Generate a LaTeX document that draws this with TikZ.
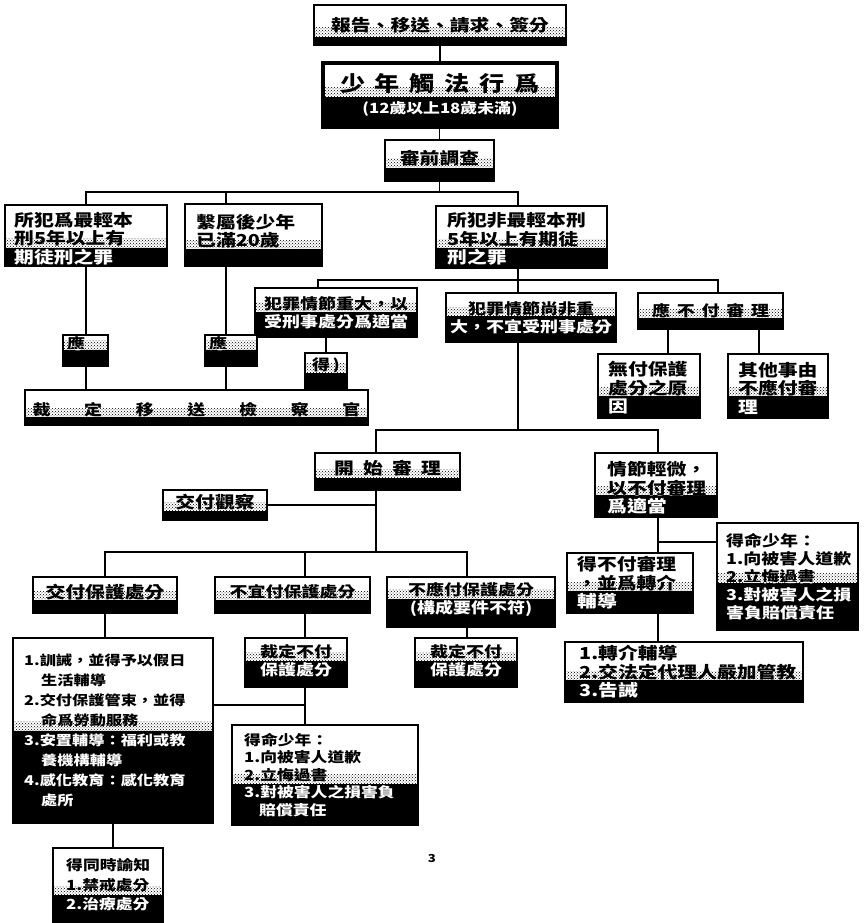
\documentclass[tikz,border=0pt]{standalone}
\usepackage{fontspec}
\setmainfont[FakeStretch=1.2]{Noto Sans CJK TC}
\usetikzlibrary{fit,calc,patterns}
\newcommand\fbig{\fontsize{16.5}{18.5}\selectfont\bfseries}
\newcommand\fsml{\fontsize{15}{18}\selectfont\bfseries}
\newcommand\ftny{\fontsize{14}{17.5}\selectfont\bfseries}
\newcommand\gbox[7]{%
  \coordinate (#1-nw) at #2;
  \coordinate (#1-se) at #3;
  \node[fit=(#1-nw)(#1-se), inner sep=0pt, outer sep=0pt] (#1) {};
  \coordinate (#1-m) at ($(#1.south west)!#4!(#1.north west)$);
  \fill[white] (#1.north west) rectangle (#1.south east);
  \fill[pattern=crosshatch dots, pattern color=black] ($(#1-m)+(0,-9)$) rectangle (#1.east |- #1-m);
  \fill[black] (#1.south west) rectangle (#1.east |- #1-m);
  \begin{scope}
    \clip (#1.north west) rectangle (#1.east |- #1-m);
    \node[txt,text=black,anchor=#5,#6] (#1-t) at (#1.#5) {#7};
  \end{scope}
  \begin{scope}
    \clip (#1.south west) rectangle (#1.east |- #1-m);
    \node[txt,text=white,anchor=#5,#6] (#1-u) at (#1.#5) {#7};
  \end{scope}
  \draw[boxline] (#1.north west) rectangle (#1.south east);
}
\begin{document}
\begin{tikzpicture}[x=1pt,y=-1pt,
  txt/.style={inner sep=0pt, align=left, font=\fbig},
  boxline/.style={draw=black, line width=1.4pt},
  conn/.style={draw=black, line width=1.2pt}]
\useasboundingbox (0,0) rectangle (863,923);
\fill[white] (0,0) rectangle (863,923);

% ---- boxes ----
\gbox{b1}{(314,5)}{(566,45)}{0.2}{center}{font=\fbig}{報告、移送、請求、簽分}
\gbox{b2}{(323,63)}{(557,127)}{0.47}{center}{align=center,font=\fontsize{21}{23}\selectfont\bfseries}{\makebox[200pt][s]{少\hfill 年\hfill 觸\hfill 法\hfill 行\hfill 爲}\\[-1pt]{\fontsize{14}{16}\selectfont\bfseries (12歲以上18歲未滿)}}
\draw[line width=3.2pt] (b2.north west) rectangle (b2.south east);
\gbox{b3}{(385,140)}{(494,181)}{0.32}{center}{font=\fbig,yshift=2pt}{審前調查}
\gbox{b4}{(5,205)}{(167,266)}{0.3}{west}{xshift=9pt,yshift=-3pt}{所犯爲最輕本\\刑5年以上有\\期徒刑之罪}
\gbox{b5}{(185,204)}{(322,266)}{0.27}{west}{xshift=11pt,yshift=4pt}{繫屬後少年\\已滿20歲}
\gbox{b6}{(436,206)}{(607,268)}{0.32}{west}{xshift=11pt,yshift=-2pt}{所犯非最輕本刑\\5年以上有期徒\\刑之罪}
\gbox{b7}{(255,288)}{(417,337)}{0.52}{center}{align=center,font=\fsml}{犯罪情節重大，以\\受刑事處分爲適當}
\gbox{b8}{(446,293)}{(616,342)}{0.53}{center}{align=center,font=\fsml}{犯罪情節尚非重\\大，不宜受刑事處分}
\gbox{b9}{(638,293)}{(783,329)}{0.3}{center}{font=\fsml}{\makebox[117pt][s]{應\hfill 不\hfill 付\hfill 審\hfill 理}}
\gbox{b10}{(598,354)}{(700,418)}{0.34}{west}{xshift=10pt,yshift=-2pt}{無付保護\\處分之原\\因}
\gbox{b11}{(728,354)}{(828,418)}{0.34}{west}{xshift=10pt,yshift=-2pt}{其他事由\\不應付審\\理}
\gbox{y1}{(63,335)}{(108,366)}{0.52}{west}{font=\fsml,xshift=4pt,yshift=7pt}{應}
\gbox{y2}{(205,335)}{(257,366)}{0.52}{west}{font=\fsml,xshift=4pt,yshift=7pt}{應}
\gbox{d1}{(305,353)}{(347,390)}{0.46}{center}{font=\fsml,yshift=6pt}{得\,)}
\gbox{b12}{(25,390)}{(368,425)}{0.22}{center}{font=\fsml,yshift=-2pt}{\makebox[328pt][s]{裁\hfill 定\hfill 移\hfill 送\hfill 檢\hfill 察\hfill 官}}
\gbox{b13}{(315,453)}{(460,490)}{0.32}{center}{font=\fbig,yshift=3pt}{\makebox[107pt][s]{開\hfill 始\hfill 審\hfill 理}}
\gbox{b14}{(163,490)}{(267,520)}{0.3}{center}{font=\fbig,yshift=3pt}{交付觀察}
\gbox{b15}{(595,453)}{(717,517)}{0.34}{west}{xshift=12pt,yshift=-3pt}{情節輕微，\\以不付審理\\爲適當}
\gbox{b16}{(717,523)}{(858,630)}{0.44}{west}{font=\fsml,xshift=9pt}{得命少年：\\1.向被害人道歉\\2.立悔過書\\3.對被害人之損\\害負賠償責任}
\gbox{b17}{(567,553)}{(693,613)}{0.36}{west}{xshift=10pt}{得不付審理\\，並爲轉介\\輔導}
\gbox{b18}{(565,642)}{(803,702)}{0.36}{west}{xshift=14pt}{1.轉介輔導\\2.交法定代理人嚴加管教\\3.告誡}
\gbox{b19}{(33,577)}{(177,613)}{0.36}{center}{font=\fbig,yshift=3pt}{交付保護處分}
\gbox{b20}{(215,577)}{(370,613)}{0.36}{center}{font=\fsml,yshift=3pt}{不宜付保護處分}
\gbox{b21}{(387,577)}{(555,627)}{0.57}{center}{align=center,font=\fsml,yshift=2pt}{不應付保護處分\\(構成要件不符)}
\gbox{b22}{(245,638)}{(347,687)}{0.53}{center}{align=center,font=\fsml,yshift=2pt}{裁定不付\\保護處分}
\gbox{b23}{(415,638)}{(517,687)}{0.53}{center}{align=center,font=\fsml,yshift=2pt}{裁定不付\\保護處分}
\gbox{b24}{(13,638)}{(213,823)}{0.5}{west}{font=\fontsize{13.5}{20}\selectfont\bfseries,xshift=11pt}{1.訓誡，並得予以假日\\\hspace*{17pt}生活輔導\\2.交付保護管束，並得\\\hspace*{17pt}命爲勞動服務\\3.安置輔導：福利或教\\\hspace*{17pt}養機構輔導\\4.感化教育：感化教育\\\hspace*{17pt}處所}
\gbox{b25}{(232,725)}{(418,825)}{0.415}{west}{font=\ftny,xshift=12pt}{得命少年：\\1.向被害人道歉\\2.立悔過書\\3.對被害人之損害負\\\hspace*{15pt}賠償責任}
\gbox{b26}{(53,848)}{(163,922)}{0.365}{west}{font=\fontsize{14}{19.5}\selectfont\bfseries,xshift=13pt}{得同時諭知\\1.禁戒處分\\2.治療處分}
\node[font=\fontsize{11}{13}\selectfont\bfseries, inner sep=0pt] (pg) at (432,858) {3};

% ---- connector junctions ----
\coordinate (j1) at (439.5,192);
\coordinate (j5) at (226,192);
\coordinate (j6) at (518,280);
\coordinate (j7) at (318,280);
\coordinate (j9) at (718,280);
\coordinate (j10) at (668,340);
\coordinate (j11) at (759,340);
\coordinate (j13) at (376,430);
\coordinate (j15) at (658,430);
\coordinate (j16) at (658,542);
\coordinate (j19) at (105,552);
\coordinate (j20) at (305,552);
\coordinate (j21) at (467,552);
\coordinate (j24) at (213,705);

% ---- connectors ----
\draw[conn] (b1.south) -- (b2.north);
\draw[conn] (b3.north |- b2.south) -- (b3.north);
\draw[conn] (b3.south) -- (j1);
\draw[conn] (b4.north) |- (j1) -| (j6 |- b6.north);
\draw[conn] (j5) -- (j5 |- b5.north);
\draw[conn] (b4.south) -- (b4.south |- y1.north);
\draw[conn] (b4.south |- y1.south) -- (b4.south |- b12.north);
\draw[conn] (j5 |- b5.south) -- (j5 |- y2.north);
\draw[conn] (j5 |- y2.south) -- (j5 |- b12.north);
\draw[conn] (j6 |- b6.south) -- (j6);
\draw[conn] (j7 |- b7.north) -- (j7) -- (j9) -- (j9 |- b9.north);
\draw[conn] (j6) -- (j6 |- b8.north);
\draw[conn] (d1.north |- b7.south) -- (d1.north);
\draw[conn] (j10 |- b9.south) -- (j10 |- b10.north);
\draw[conn] (j11 |- b9.south) -- (j11 |- b11.north);
\draw[conn] (j6 |- b8.south) -- (j6 |- j13);
\draw[conn] (j13 |- b13.north) -- (j13) -- (j15) -- (j15 |- b15.north);
\draw[conn] (b14.east) -- (b14.east -| j13);
\draw[conn] (j13 |- b13.south) -- (j13 |- j19);
\draw[conn] (j19 |- b19.north) -- (j19) -- (j21) -- (j21 |- b21.north);
\draw[conn] (j20) -- (j20 |- b20.north);
\draw[conn] (j19 |- b19.south) -- (j19 |- b24.north);
\draw[conn] (j20 |- b20.south) -- (j20 |- b22.north);
\draw[conn] (j20 |- b22.south) -- (j20 |- b25.north);
\draw[conn] (j24) -- (j24 -| j20);
\draw[conn] (j21 |- b21.south) -- (j21 |- b23.north);
\draw[conn] (b24.south) -- (b24.south |- b26.north);
\draw[conn] (j15 |- b15.south) -- (j15 |- b17.north);
\draw[conn] (j16) -- (j16 -| b16.west);
\draw[conn] (j15 |- b17.south) -- (j15 |- b18.north);
\end{tikzpicture}
\end{document}
